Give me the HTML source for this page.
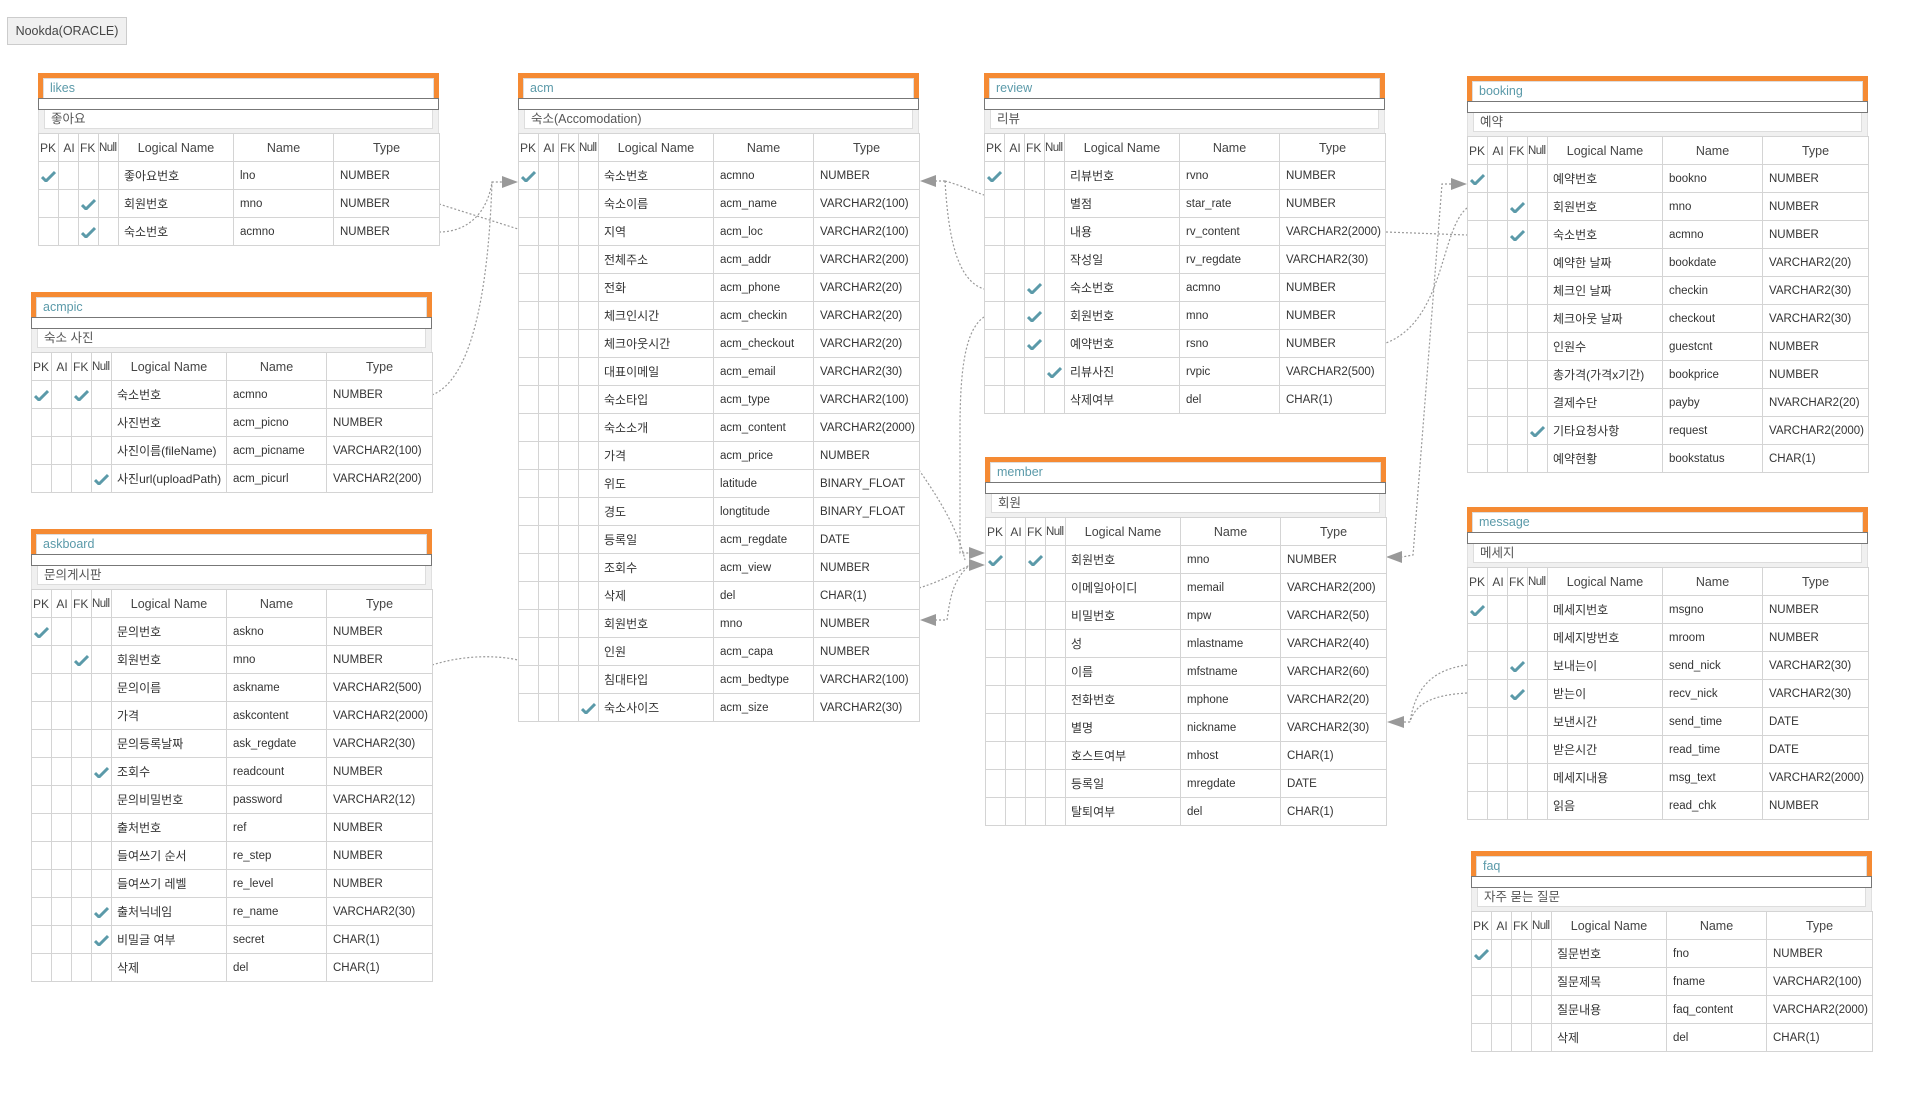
<!DOCTYPE html>
<html><head><meta charset="utf-8">
<style>
body{margin:0;width:1913px;height:1095px;background:#fff;position:relative;overflow:hidden;font-family:"Liberation Sans","Noto Sans CJK KR",sans-serif;color:#333}
.db{position:absolute;left:7px;top:17px;width:120px;height:28px;background:#f0f0f0;border:1px solid #ccc;box-sizing:border-box;font-size:12.5px;line-height:27px;text-align:center;color:#444}
.t{position:absolute;width:401px}
.o{background:#f58a33;height:25px;padding:5px 5px 0;box-sizing:border-box}
.ti{background:#fff;height:20px;border:1px solid #ddd;border-bottom:none;box-sizing:border-box;color:#5b9aa9;font-size:12.5px;line-height:19px;padding-left:6px}
.bar{height:12px;border:1px solid #777;box-sizing:border-box;background:#fff}
.cm{background:#f0f0f0;height:23px;padding:0 5px;box-sizing:border-box;border-left:1px solid #e0e0e0;border-right:1px solid #e0e0e0}
.cm div{background:#fff;height:19px;border:1px solid #ddd;border-top:none;box-sizing:border-box;font-size:12.5px;line-height:18px;padding-left:6px;color:#555}
table{border-collapse:collapse;table-layout:fixed;width:401px;background:#fff}
td{border:1px solid #d4d4d4;height:28px;padding:0 0 0 6px;font-size:11.5px;white-space:nowrap;overflow:hidden;box-sizing:border-box}
tr.h td{font-size:12.5px;text-align:center;padding:0;color:#444}
tr.h td.s{text-align:left;padding-left:1px;font-size:12px}
tr.h td.n{text-align:left;padding:0;font-size:11.5px;letter-spacing:-0.6px}
td.c{padding:0 0 0 2px}
td.l{font-size:12px;padding-left:5px}
svg.k{display:block}
</style></head><body>
<svg style="position:absolute;left:0;top:0" width="1913" height="1095">
<g fill="none" stroke="#999" stroke-width="1.2" stroke-dasharray="2,2">
<path d="M439 204 L518 229"/>
<path d="M439 232 C470 232 488 210 492 182 L502 182"/>
<path d="M432 395 C470 380 488 300 492 182"/>
<path d="M432 665 C480 650 518 660 518 660"/>
<path d="M945 181 L934 181"/>
<path d="M945 181 C960 185 975 192 984 195"/>
<path d="M945 181 C948 230 955 280 984 289"/>
<path d="M984 317 C965 330 960 370 960 430 L960 553 L970 553"/>
<path d="M919 588 C945 580 960 570 970 565"/>
<path d="M935 620 L947 620 C950 600 952 580 970 565"/>
<path d="M919 470 C940 500 958 530 965 560"/>
<path d="M1386 232 L1467 235"/>
<path d="M1467 208 C1440 230 1445 320 1386 343"/>
<path d="M1455 184 L1442 184 L1413 555 L1402 557"/>
<path d="M1467 665 C1430 670 1415 690 1410 722 L1404 722"/>
<path d="M1467 693 C1430 695 1415 705 1410 722"/>
</g>
<g fill="#999">
<path d="M518 182 L502 176 L502 188Z"/>
<path d="M920 181 L936 175 L936 187Z"/>
<path d="M920 620 L936 614 L936 626Z"/>
<path d="M985 553 L969 547 L969 559Z"/>
<path d="M985 565 L969 559 L969 571Z"/>
<path d="M1386 557 L1402 551 L1402 563Z"/>
<path d="M1467 184 L1451 178 L1451 190Z"/>
<path d="M1387 722 L1404 716 L1404 728Z"/>
</g>
</svg>
<div class="db">Nookda(ORACLE)</div>

<!-- likes -->
<div class="t" style="left:38px;top:73px"><div class="o"><div class="ti">likes</div></div><div class="bar"></div><div class="cm"><div>좋아요</div></div>
<table><colgroup><col style="width:20px"><col style="width:20px"><col style="width:20px"><col style="width:20px"><col style="width:115px"><col style="width:100px"><col style="width:106px"></colgroup>
<tr class="h"><td class="s">PK</td><td class="s">&nbsp;AI</td><td class="s">FK</td><td class="n">Null</td><td>Logical Name</td><td>Name</td><td>Type</td></tr>
<tr><td class="c"><svg class="k" width="15" height="12"><path d="M1 7L5 11L14 2" stroke="#5b9aa9" stroke-width="3" fill="none"/></svg></td><td></td><td></td><td></td><td class="l">좋아요번호</td><td>lno</td><td>NUMBER</td></tr>
<tr><td></td><td></td><td class="c"><svg class="k" width="15" height="12"><path d="M1 7L5 11L14 2" stroke="#5b9aa9" stroke-width="3" fill="none"/></svg></td><td></td><td class="l">회원번호</td><td>mno</td><td>NUMBER</td></tr>
<tr><td></td><td></td><td class="c"><svg class="k" width="15" height="12"><path d="M1 7L5 11L14 2" stroke="#5b9aa9" stroke-width="3" fill="none"/></svg></td><td></td><td class="l">숙소번호</td><td>acmno</td><td>NUMBER</td></tr>
</table></div>

<!-- acmpic -->
<div class="t" style="left:31px;top:292px"><div class="o"><div class="ti">acmpic</div></div><div class="bar"></div><div class="cm"><div>숙소 사진</div></div>
<table><colgroup><col style="width:20px"><col style="width:20px"><col style="width:20px"><col style="width:20px"><col style="width:115px"><col style="width:100px"><col style="width:106px"></colgroup>
<tr class="h"><td class="s">PK</td><td class="s">&nbsp;AI</td><td class="s">FK</td><td class="n">Null</td><td>Logical Name</td><td>Name</td><td>Type</td></tr>
<tr><td class="c"><svg class="k" width="15" height="12"><path d="M1 7L5 11L14 2" stroke="#5b9aa9" stroke-width="3" fill="none"/></svg></td><td></td><td class="c"><svg class="k" width="15" height="12"><path d="M1 7L5 11L14 2" stroke="#5b9aa9" stroke-width="3" fill="none"/></svg></td><td></td><td class="l">숙소번호</td><td>acmno</td><td>NUMBER</td></tr>
<tr><td></td><td></td><td></td><td></td><td class="l">사진번호</td><td>acm_picno</td><td>NUMBER</td></tr>
<tr><td></td><td></td><td></td><td></td><td class="l">사진이름(fileName)</td><td>acm_picname</td><td>VARCHAR2(100)</td></tr>
<tr><td></td><td></td><td></td><td class="c"><svg class="k" width="15" height="12"><path d="M1 7L5 11L14 2" stroke="#5b9aa9" stroke-width="3" fill="none"/></svg></td><td class="l">사진url(uploadPath)</td><td>acm_picurl</td><td>VARCHAR2(200)</td></tr>
</table></div>

<!-- askboard -->
<div class="t" style="left:31px;top:529px"><div class="o"><div class="ti">askboard</div></div><div class="bar"></div><div class="cm"><div>문의게시판</div></div>
<table><colgroup><col style="width:20px"><col style="width:20px"><col style="width:20px"><col style="width:20px"><col style="width:115px"><col style="width:100px"><col style="width:106px"></colgroup>
<tr class="h"><td class="s">PK</td><td class="s">&nbsp;AI</td><td class="s">FK</td><td class="n">Null</td><td>Logical Name</td><td>Name</td><td>Type</td></tr>
<tr><td class="c"><svg class="k" width="15" height="12"><path d="M1 7L5 11L14 2" stroke="#5b9aa9" stroke-width="3" fill="none"/></svg></td><td></td><td></td><td></td><td class="l">문의번호</td><td>askno</td><td>NUMBER</td></tr>
<tr><td></td><td></td><td class="c"><svg class="k" width="15" height="12"><path d="M1 7L5 11L14 2" stroke="#5b9aa9" stroke-width="3" fill="none"/></svg></td><td></td><td class="l">회원번호</td><td>mno</td><td>NUMBER</td></tr>
<tr><td></td><td></td><td></td><td></td><td class="l">문의이름</td><td>askname</td><td>VARCHAR2(500)</td></tr>
<tr><td></td><td></td><td></td><td></td><td class="l">가격</td><td>askcontent</td><td>VARCHAR2(2000)</td></tr>
<tr><td></td><td></td><td></td><td></td><td class="l">문의등록날짜</td><td>ask_regdate</td><td>VARCHAR2(30)</td></tr>
<tr><td></td><td></td><td></td><td class="c"><svg class="k" width="15" height="12"><path d="M1 7L5 11L14 2" stroke="#5b9aa9" stroke-width="3" fill="none"/></svg></td><td class="l">조회수</td><td>readcount</td><td>NUMBER</td></tr>
<tr><td></td><td></td><td></td><td></td><td class="l">문의비밀번호</td><td>password</td><td>VARCHAR2(12)</td></tr>
<tr><td></td><td></td><td></td><td></td><td class="l">출처번호</td><td>ref</td><td>NUMBER</td></tr>
<tr><td></td><td></td><td></td><td></td><td class="l">들여쓰기 순서</td><td>re_step</td><td>NUMBER</td></tr>
<tr><td></td><td></td><td></td><td></td><td class="l">들여쓰기 레벨</td><td>re_level</td><td>NUMBER</td></tr>
<tr><td></td><td></td><td></td><td class="c"><svg class="k" width="15" height="12"><path d="M1 7L5 11L14 2" stroke="#5b9aa9" stroke-width="3" fill="none"/></svg></td><td class="l">출처닉네임</td><td>re_name</td><td>VARCHAR2(30)</td></tr>
<tr><td></td><td></td><td></td><td class="c"><svg class="k" width="15" height="12"><path d="M1 7L5 11L14 2" stroke="#5b9aa9" stroke-width="3" fill="none"/></svg></td><td class="l">비밀글 여부</td><td>secret</td><td>CHAR(1)</td></tr>
<tr><td></td><td></td><td></td><td></td><td class="l">삭제</td><td>del</td><td>CHAR(1)</td></tr>
</table></div>

<!-- acm -->
<div class="t" style="left:518px;top:73px"><div class="o"><div class="ti">acm</div></div><div class="bar"></div><div class="cm"><div>숙소(Accomodation)</div></div>
<table><colgroup><col style="width:20px"><col style="width:20px"><col style="width:20px"><col style="width:20px"><col style="width:115px"><col style="width:100px"><col style="width:106px"></colgroup>
<tr class="h"><td class="s">PK</td><td class="s">&nbsp;AI</td><td class="s">FK</td><td class="n">Null</td><td>Logical Name</td><td>Name</td><td>Type</td></tr>
<tr><td class="c"><svg class="k" width="15" height="12"><path d="M1 7L5 11L14 2" stroke="#5b9aa9" stroke-width="3" fill="none"/></svg></td><td></td><td></td><td></td><td class="l">숙소번호</td><td>acmno</td><td>NUMBER</td></tr>
<tr><td></td><td></td><td></td><td></td><td class="l">숙소이름</td><td>acm_name</td><td>VARCHAR2(100)</td></tr>
<tr><td></td><td></td><td></td><td></td><td class="l">지역</td><td>acm_loc</td><td>VARCHAR2(100)</td></tr>
<tr><td></td><td></td><td></td><td></td><td class="l">전체주소</td><td>acm_addr</td><td>VARCHAR2(200)</td></tr>
<tr><td></td><td></td><td></td><td></td><td class="l">전화</td><td>acm_phone</td><td>VARCHAR2(20)</td></tr>
<tr><td></td><td></td><td></td><td></td><td class="l">체크인시간</td><td>acm_checkin</td><td>VARCHAR2(20)</td></tr>
<tr><td></td><td></td><td></td><td></td><td class="l">체크아웃시간</td><td>acm_checkout</td><td>VARCHAR2(20)</td></tr>
<tr><td></td><td></td><td></td><td></td><td class="l">대표이메일</td><td>acm_email</td><td>VARCHAR2(30)</td></tr>
<tr><td></td><td></td><td></td><td></td><td class="l">숙소타입</td><td>acm_type</td><td>VARCHAR2(100)</td></tr>
<tr><td></td><td></td><td></td><td></td><td class="l">숙소소개</td><td>acm_content</td><td>VARCHAR2(2000)</td></tr>
<tr><td></td><td></td><td></td><td></td><td class="l">가격</td><td>acm_price</td><td>NUMBER</td></tr>
<tr><td></td><td></td><td></td><td></td><td class="l">위도</td><td>latitude</td><td>BINARY_FLOAT</td></tr>
<tr><td></td><td></td><td></td><td></td><td class="l">경도</td><td>longtitude</td><td>BINARY_FLOAT</td></tr>
<tr><td></td><td></td><td></td><td></td><td class="l">등록일</td><td>acm_regdate</td><td>DATE</td></tr>
<tr><td></td><td></td><td></td><td></td><td class="l">조회수</td><td>acm_view</td><td>NUMBER</td></tr>
<tr><td></td><td></td><td></td><td></td><td class="l">삭제</td><td>del</td><td>CHAR(1)</td></tr>
<tr><td></td><td></td><td></td><td></td><td class="l">회원번호</td><td>mno</td><td>NUMBER</td></tr>
<tr><td></td><td></td><td></td><td></td><td class="l">인원</td><td>acm_capa</td><td>NUMBER</td></tr>
<tr><td></td><td></td><td></td><td></td><td class="l">침대타입</td><td>acm_bedtype</td><td>VARCHAR2(100)</td></tr>
<tr><td></td><td></td><td></td><td class="c"><svg class="k" width="15" height="12"><path d="M1 7L5 11L14 2" stroke="#5b9aa9" stroke-width="3" fill="none"/></svg></td><td class="l">숙소사이즈</td><td>acm_size</td><td>VARCHAR2(30)</td></tr>
</table></div>

<!-- review -->
<div class="t" style="left:984px;top:73px"><div class="o"><div class="ti">review</div></div><div class="bar"></div><div class="cm"><div>리뷰</div></div>
<table><colgroup><col style="width:20px"><col style="width:20px"><col style="width:20px"><col style="width:20px"><col style="width:115px"><col style="width:100px"><col style="width:106px"></colgroup>
<tr class="h"><td class="s">PK</td><td class="s">&nbsp;AI</td><td class="s">FK</td><td class="n">Null</td><td>Logical Name</td><td>Name</td><td>Type</td></tr>
<tr><td class="c"><svg class="k" width="15" height="12"><path d="M1 7L5 11L14 2" stroke="#5b9aa9" stroke-width="3" fill="none"/></svg></td><td></td><td></td><td></td><td class="l">리뷰번호</td><td>rvno</td><td>NUMBER</td></tr>
<tr><td></td><td></td><td></td><td></td><td class="l">별점</td><td>star_rate</td><td>NUMBER</td></tr>
<tr><td></td><td></td><td></td><td></td><td class="l">내용</td><td>rv_content</td><td>VARCHAR2(2000)</td></tr>
<tr><td></td><td></td><td></td><td></td><td class="l">작성일</td><td>rv_regdate</td><td>VARCHAR2(30)</td></tr>
<tr><td></td><td></td><td class="c"><svg class="k" width="15" height="12"><path d="M1 7L5 11L14 2" stroke="#5b9aa9" stroke-width="3" fill="none"/></svg></td><td></td><td class="l">숙소번호</td><td>acmno</td><td>NUMBER</td></tr>
<tr><td></td><td></td><td class="c"><svg class="k" width="15" height="12"><path d="M1 7L5 11L14 2" stroke="#5b9aa9" stroke-width="3" fill="none"/></svg></td><td></td><td class="l">회원번호</td><td>mno</td><td>NUMBER</td></tr>
<tr><td></td><td></td><td class="c"><svg class="k" width="15" height="12"><path d="M1 7L5 11L14 2" stroke="#5b9aa9" stroke-width="3" fill="none"/></svg></td><td></td><td class="l">예약번호</td><td>rsno</td><td>NUMBER</td></tr>
<tr><td></td><td></td><td></td><td class="c"><svg class="k" width="15" height="12"><path d="M1 7L5 11L14 2" stroke="#5b9aa9" stroke-width="3" fill="none"/></svg></td><td class="l">리뷰사진</td><td>rvpic</td><td>VARCHAR2(500)</td></tr>
<tr><td></td><td></td><td></td><td></td><td class="l">삭제여부</td><td>del</td><td>CHAR(1)</td></tr>
</table></div>

<!-- member -->
<div class="t" style="left:985px;top:457px"><div class="o"><div class="ti">member</div></div><div class="bar"></div><div class="cm"><div>회원</div></div>
<table><colgroup><col style="width:20px"><col style="width:20px"><col style="width:20px"><col style="width:20px"><col style="width:115px"><col style="width:100px"><col style="width:106px"></colgroup>
<tr class="h"><td class="s">PK</td><td class="s">&nbsp;AI</td><td class="s">FK</td><td class="n">Null</td><td>Logical Name</td><td>Name</td><td>Type</td></tr>
<tr><td class="c"><svg class="k" width="15" height="12"><path d="M1 7L5 11L14 2" stroke="#5b9aa9" stroke-width="3" fill="none"/></svg></td><td></td><td class="c"><svg class="k" width="15" height="12"><path d="M1 7L5 11L14 2" stroke="#5b9aa9" stroke-width="3" fill="none"/></svg></td><td></td><td class="l">회원번호</td><td>mno</td><td>NUMBER</td></tr>
<tr><td></td><td></td><td></td><td></td><td class="l">이메일아이디</td><td>memail</td><td>VARCHAR2(200)</td></tr>
<tr><td></td><td></td><td></td><td></td><td class="l">비밀번호</td><td>mpw</td><td>VARCHAR2(50)</td></tr>
<tr><td></td><td></td><td></td><td></td><td class="l">성</td><td>mlastname</td><td>VARCHAR2(40)</td></tr>
<tr><td></td><td></td><td></td><td></td><td class="l">이름</td><td>mfstname</td><td>VARCHAR2(60)</td></tr>
<tr><td></td><td></td><td></td><td></td><td class="l">전화번호</td><td>mphone</td><td>VARCHAR2(20)</td></tr>
<tr><td></td><td></td><td></td><td></td><td class="l">별명</td><td>nickname</td><td>VARCHAR2(30)</td></tr>
<tr><td></td><td></td><td></td><td></td><td class="l">호스트여부</td><td>mhost</td><td>CHAR(1)</td></tr>
<tr><td></td><td></td><td></td><td></td><td class="l">등록일</td><td>mregdate</td><td>DATE</td></tr>
<tr><td></td><td></td><td></td><td></td><td class="l">탈퇴여부</td><td>del</td><td>CHAR(1)</td></tr>
</table></div>

<!-- booking -->
<div class="t" style="left:1467px;top:76px"><div class="o"><div class="ti">booking</div></div><div class="bar"></div><div class="cm"><div>예약</div></div>
<table><colgroup><col style="width:20px"><col style="width:20px"><col style="width:20px"><col style="width:20px"><col style="width:115px"><col style="width:100px"><col style="width:106px"></colgroup>
<tr class="h"><td class="s">PK</td><td class="s">&nbsp;AI</td><td class="s">FK</td><td class="n">Null</td><td>Logical Name</td><td>Name</td><td>Type</td></tr>
<tr><td class="c"><svg class="k" width="15" height="12"><path d="M1 7L5 11L14 2" stroke="#5b9aa9" stroke-width="3" fill="none"/></svg></td><td></td><td></td><td></td><td class="l">예약번호</td><td>bookno</td><td>NUMBER</td></tr>
<tr><td></td><td></td><td class="c"><svg class="k" width="15" height="12"><path d="M1 7L5 11L14 2" stroke="#5b9aa9" stroke-width="3" fill="none"/></svg></td><td></td><td class="l">회원번호</td><td>mno</td><td>NUMBER</td></tr>
<tr><td></td><td></td><td class="c"><svg class="k" width="15" height="12"><path d="M1 7L5 11L14 2" stroke="#5b9aa9" stroke-width="3" fill="none"/></svg></td><td></td><td class="l">숙소번호</td><td>acmno</td><td>NUMBER</td></tr>
<tr><td></td><td></td><td></td><td></td><td class="l">예약한 날짜</td><td>bookdate</td><td>VARCHAR2(20)</td></tr>
<tr><td></td><td></td><td></td><td></td><td class="l">체크인 날짜</td><td>checkin</td><td>VARCHAR2(30)</td></tr>
<tr><td></td><td></td><td></td><td></td><td class="l">체크아웃 날짜</td><td>checkout</td><td>VARCHAR2(30)</td></tr>
<tr><td></td><td></td><td></td><td></td><td class="l">인원수</td><td>guestcnt</td><td>NUMBER</td></tr>
<tr><td></td><td></td><td></td><td></td><td class="l">총가격(가격x기간)</td><td>bookprice</td><td>NUMBER</td></tr>
<tr><td></td><td></td><td></td><td></td><td class="l">결제수단</td><td>payby</td><td>NVARCHAR2(20)</td></tr>
<tr><td></td><td></td><td></td><td class="c"><svg class="k" width="15" height="12"><path d="M1 7L5 11L14 2" stroke="#5b9aa9" stroke-width="3" fill="none"/></svg></td><td class="l">기타요청사항</td><td>request</td><td>VARCHAR2(2000)</td></tr>
<tr><td></td><td></td><td></td><td></td><td class="l">예약현황</td><td>bookstatus</td><td>CHAR(1)</td></tr>
</table></div>

<!-- message -->
<div class="t" style="left:1467px;top:507px"><div class="o"><div class="ti">message</div></div><div class="bar"></div><div class="cm"><div>메세지</div></div>
<table><colgroup><col style="width:20px"><col style="width:20px"><col style="width:20px"><col style="width:20px"><col style="width:115px"><col style="width:100px"><col style="width:106px"></colgroup>
<tr class="h"><td class="s">PK</td><td class="s">&nbsp;AI</td><td class="s">FK</td><td class="n">Null</td><td>Logical Name</td><td>Name</td><td>Type</td></tr>
<tr><td class="c"><svg class="k" width="15" height="12"><path d="M1 7L5 11L14 2" stroke="#5b9aa9" stroke-width="3" fill="none"/></svg></td><td></td><td></td><td></td><td class="l">메세지번호</td><td>msgno</td><td>NUMBER</td></tr>
<tr><td></td><td></td><td></td><td></td><td class="l">메세지방번호</td><td>mroom</td><td>NUMBER</td></tr>
<tr><td></td><td></td><td class="c"><svg class="k" width="15" height="12"><path d="M1 7L5 11L14 2" stroke="#5b9aa9" stroke-width="3" fill="none"/></svg></td><td></td><td class="l">보내는이</td><td>send_nick</td><td>VARCHAR2(30)</td></tr>
<tr><td></td><td></td><td class="c"><svg class="k" width="15" height="12"><path d="M1 7L5 11L14 2" stroke="#5b9aa9" stroke-width="3" fill="none"/></svg></td><td></td><td class="l">받는이</td><td>recv_nick</td><td>VARCHAR2(30)</td></tr>
<tr><td></td><td></td><td></td><td></td><td class="l">보낸시간</td><td>send_time</td><td>DATE</td></tr>
<tr><td></td><td></td><td></td><td></td><td class="l">받은시간</td><td>read_time</td><td>DATE</td></tr>
<tr><td></td><td></td><td></td><td></td><td class="l">메세지내용</td><td>msg_text</td><td>VARCHAR2(2000)</td></tr>
<tr><td></td><td></td><td></td><td></td><td class="l">읽음</td><td>read_chk</td><td>NUMBER</td></tr>
</table></div>

<!-- faq -->
<div class="t" style="left:1471px;top:851px"><div class="o"><div class="ti">faq</div></div><div class="bar"></div><div class="cm"><div>자주 묻는 질문</div></div>
<table><colgroup><col style="width:20px"><col style="width:20px"><col style="width:20px"><col style="width:20px"><col style="width:115px"><col style="width:100px"><col style="width:106px"></colgroup>
<tr class="h"><td class="s">PK</td><td class="s">&nbsp;AI</td><td class="s">FK</td><td class="n">Null</td><td>Logical Name</td><td>Name</td><td>Type</td></tr>
<tr><td class="c"><svg class="k" width="15" height="12"><path d="M1 7L5 11L14 2" stroke="#5b9aa9" stroke-width="3" fill="none"/></svg></td><td></td><td></td><td></td><td class="l">질문번호</td><td>fno</td><td>NUMBER</td></tr>
<tr><td></td><td></td><td></td><td></td><td class="l">질문제목</td><td>fname</td><td>VARCHAR2(100)</td></tr>
<tr><td></td><td></td><td></td><td></td><td class="l">질문내용</td><td>faq_content</td><td>VARCHAR2(2000)</td></tr>
<tr><td></td><td></td><td></td><td></td><td class="l">삭제</td><td>del</td><td>CHAR(1)</td></tr>
</table></div>
</body></html>
